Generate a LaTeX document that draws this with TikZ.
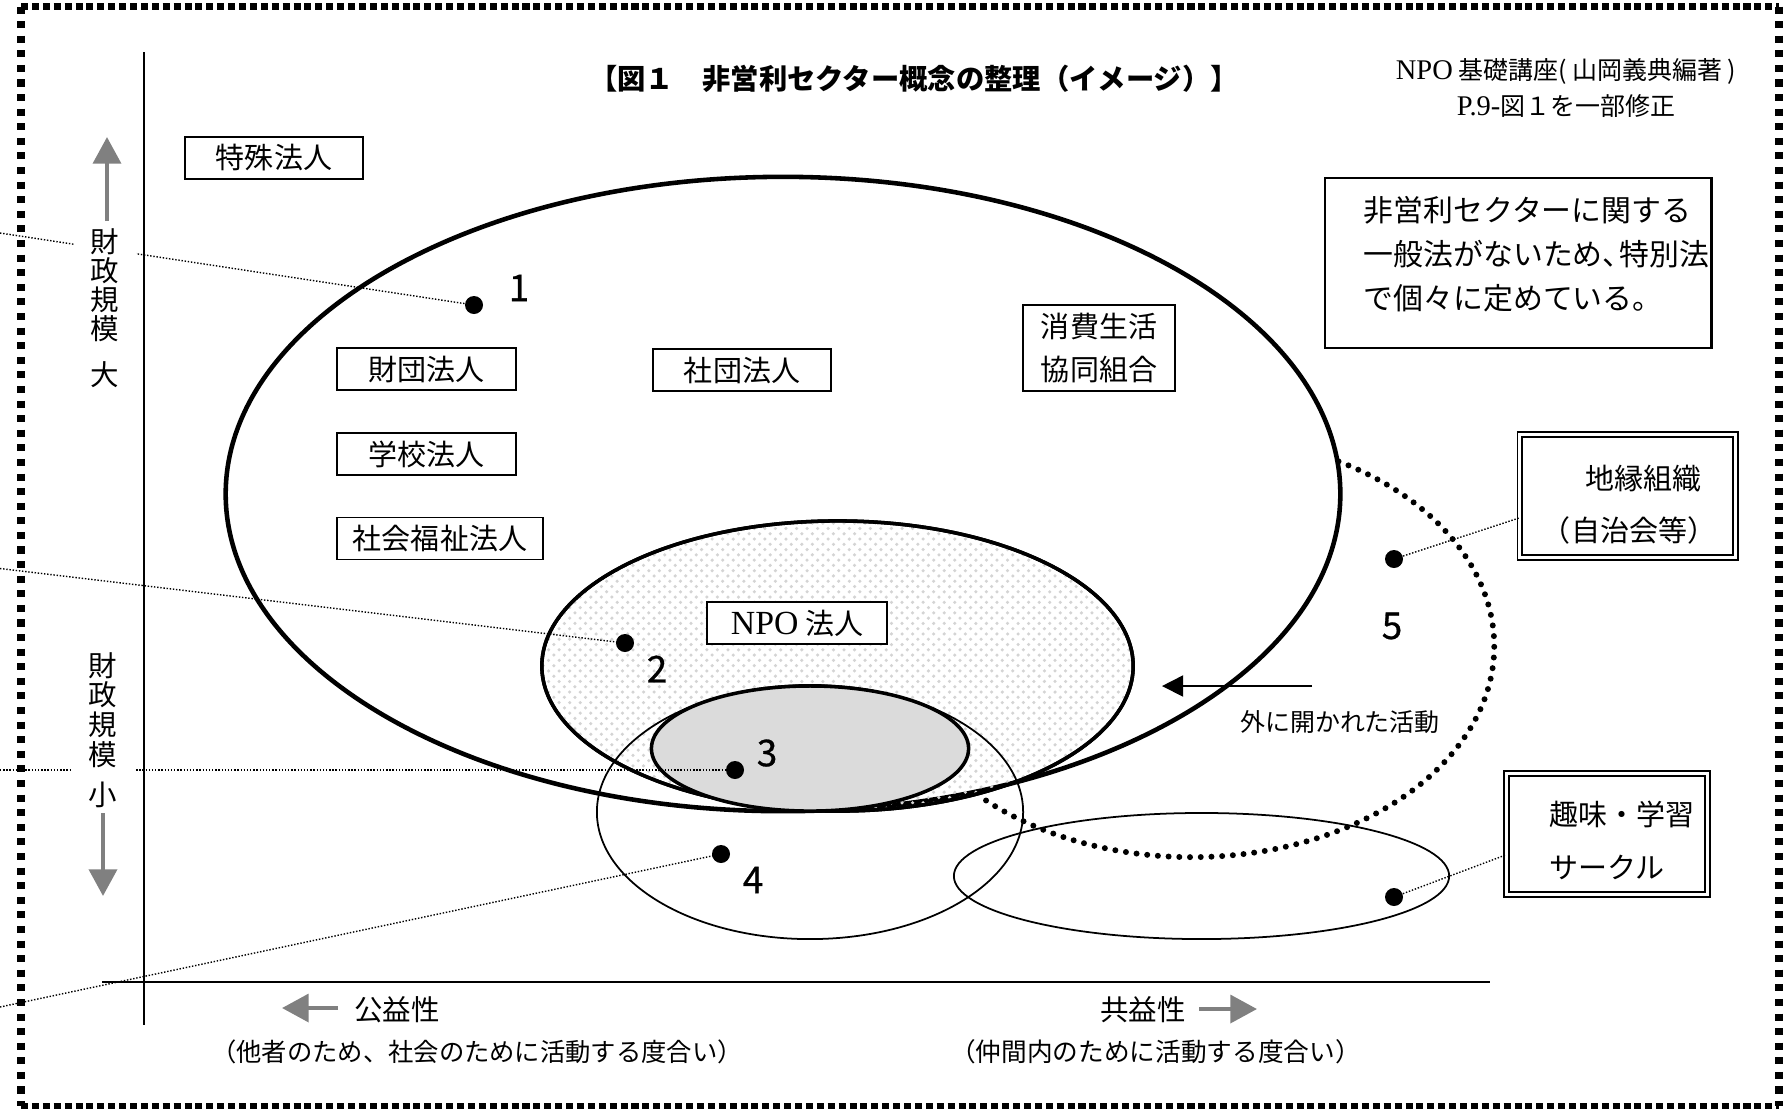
\documentclass[tikz,border=0pt]{standalone}
\usepackage{fontspec}
\setmainfont{Noto Sans CJK JP}
\newfontfamily\lser{Liberation Serif}
\newfontfamily\numfont[FakeBold=0.7]{Noto Sans CJK JP}
\usetikzlibrary{arrows.meta,patterns}
\newcommand\fsz[1]{\fontsize{#1}{#1}\selectfont}
\begin{document}
\begin{tikzpicture}[x=0.01cm,y=-0.01cm,
  lbl/.style={draw, line width=0.4pt, fill=white, inner sep=0pt, minimum height=0.42cm, font=\fsz{8.25pt}},
  dbl/.style={draw, double, line width=0.55pt, double distance=0.85pt, inner sep=0pt},
  txt/.style={inner sep=0pt, font=\fsz{8.25pt}},
  dot/.style={circle, fill=black, inner sep=0pt, minimum size=0.18cm},
  num/.style={font=\numfont\fsz{10.5pt}, inner sep=0pt},
  leader/.style={line width=0.4pt, dash pattern=on 0.4pt off 0.5pt},
  bigdots/.style={line width=1.7pt, dash pattern=on 0pt off 3.05pt, line cap=round},
  garrow/.style={draw=gray, line width=1.25pt, -{Triangle[length=7.6pt,width=7.9pt]}},
  hborder/.style={line width=1.8pt, dash pattern=on 2pt off 1.1pt},
  vborder/.style={line width=2.2pt, dash pattern=on 2pt off 2.15pt},
  vtext/.style={fill=white, inner xsep=0.17cm, inner ysep=0.03cm, align=center},
]
\useasboundingbox (0,0) rectangle (1792,1114);

% axes
\draw[line width=0.6pt] (144,52) -- (144,1025);
\draw[line width=0.7pt] (102,982) -- (1490,982);

% ellipses
\draw[line width=1.3pt] (783,494) ellipse [x radius=5.57cm, y radius=3.17cm];
\draw[line width=1pt, pattern=crosshatch dots, pattern color=black!17] (837.5,666) ellipse [x radius=2.955cm, y radius=1.45cm];
\draw[line width=1pt] (837.5,666) ellipse [x radius=2.955cm, y radius=1.45cm];
\draw[line width=0.5pt] (810,812) ellipse [x radius=2.13cm, y radius=1.27cm];
\draw[line width=1pt, fill=black!14] (810,748.5) ellipse [x radius=1.585cm, y radius=0.625cm];
\draw[line width=0.5pt] (1201.5,876) ellipse [x radius=2.475cm, y radius=0.63cm];
\draw[bigdots] (1192,646) ++(61:3.02cm and 2.11cm) arc[start angle=61, end angle=-134, x radius=3.02cm, y radius=2.11cm];

% label boxes
\node[lbl, minimum width=1.78cm] (tokushu) at (274,158) {特殊法人};
\node[lbl, minimum width=1.79cm] (zaidan) at (426.5,369) {財団法人};
\node[lbl, minimum width=1.78cm] (shadan) at (742,370) {社団法人};
\node[lbl, minimum width=1.79cm] (gakko) at (426.5,454) {学校法人};
\node[lbl, minimum width=2.06cm] (fukushi) at (440,538.5) {社会福祉法人};
\node[lbl, minimum width=1.52cm, minimum height=0.86cm, align=center, font=\fontsize{8.25pt}{12pt}\selectfont] (coop) at (1099,348) {消費生活\\協同組合};
\node[lbl, minimum width=1.8cm] (npo) at (797,623) {{\lser\fsz{9.6pt}NPO} 法人};

% info box
\node[draw, line width=0.8pt, minimum width=3.86cm, minimum height=1.70cm, inner sep=0pt] (info) at (1518,263) {};
\node[anchor=west, align=left, inner sep=0pt, font=\fontsize{8.5pt}{12.5pt}\selectfont] (infotxt) at (1363,254) {非営利セクターに関する\\一般法がないため、\kern-.45em 特別法\\で個々に定めている。};

% double boxes
\node[dbl, minimum width=2.15cm, minimum height=1.23cm] (chien) at (1627.5,496) {};
\node[txt] (chienA) at (1643,479) {地縁組織};
\node[txt] (chienB) at (1629,530) {（自治会等）};
\node[dbl, minimum width=2.01cm, minimum height=1.21cm] (shumi) at (1607,834) {};
\node[txt, anchor=west] (shumiA) at (1549,814) {趣味・学習};
\node[txt, anchor=west] (shumiB) at (1549,867) {サークル};

% dots
\node[dot] (d1) at (474,305) {};
\node[dot] (d2) at (625,643) {};
\node[dot] (d3) at (735,770) {};
\node[dot] (d4) at (721,854) {};
\node[dot] (d5) at (1394,559) {};
\node[dot] (d6) at (1394,897) {};

% leader lines
\coordinate (e1) at (0,233);
\coordinate (e2) at (0,568.5);
\coordinate (e3) at (0,770);
\coordinate (e4) at (0,1007);
\coordinate (c5) at (1516,518);
\coordinate (c6) at (1503,855);
\draw[leader] (e1) -- (d1.center);
\draw[leader] (e2) -- (d2.center);
\draw[leader] (e3) -- (d3.center);
\draw[leader] (e4) -- (d4.center);
\draw[leader] (d5.center) -- (chien.west |- c5);
\draw[leader] (d6.center) -- (shumi.west |- c6);

% numbers
\node[num] (n1) at (519,288) {1};
\node[num] (n2) at (657,669) {2};
\node[num] (n3) at (767,753) {3};
\node[num] (n4) at (753,880) {4};
\node[num] (n5) at (1392,626) {5};

% vertical axis texts
\node[vtext, font=\fontsize{8.1pt}{8.3pt}\selectfont] (vbig) at (105,308) {財\\政\\規\\模\\[4.8pt]大};
\node[vtext, font=\fontsize{8.1pt}{8.45pt}\selectfont] (vsmall) at (103,730) {財\\政\\規\\模\\[2.9pt]小};
\draw[garrow] (107,221) -- (107,137);
\draw[garrow] (103,813) -- (103,896);

% open activity arrow
\draw[line width=0.5pt, -{Triangle[length=6pt,width=6pt]}] (1312,686) -- (1162,686);
\node[inner sep=0pt, font=\fsz{7.1pt}] (soto) at (1340,722) {外に開かれた活動};

% title and source
\node[inner sep=0pt, font=\bfseries\fsz{8.05pt}] (title) at (914,79) {【図１　非営利セクター概念の整理（イメージ）】};
\node[inner sep=0pt, font=\fsz{7.1pt}] (src1) at (1566,71) {{\lser\fsz{8.1pt}NPO} 基礎講座( 山岡義典編著 )};
\node[inner sep=0pt, font=\fsz{7.1pt}] (src2) at (1566,106) {{\lser\fsz{8.1pt}P.9-}図１を一部修正};

% bottom axis texts
\draw[garrow] (338,1008) -- (282,1008);
\draw[garrow] (1199,1009) -- (1257,1009);
\node[inner sep=0pt, font=\fsz{8.1pt}] (koeki) at (397,1010) {公益性};
\node[inner sep=0pt, font=\fsz{7.2pt}] (koekiB) at (477,1052) {（他者のため、社会のために活動する度合い）};
\node[inner sep=0pt, font=\fsz{8.1pt}] (kyoeki) at (1143,1010) {共益性};
\node[inner sep=0pt, font=\fsz{7.3pt}] (kyoekiB) at (1155.5,1052) {（仲間内のために活動する度合い）};

% border
\draw[hborder] (21,6.5) -- (1779,6.5);
\draw[hborder] (21,1106) -- (1779,1106);
\draw[vborder] (21,6.5) -- (21,1106);
\draw[vborder] (1779,6.5) -- (1779,1106);
\end{tikzpicture}
\end{document}
